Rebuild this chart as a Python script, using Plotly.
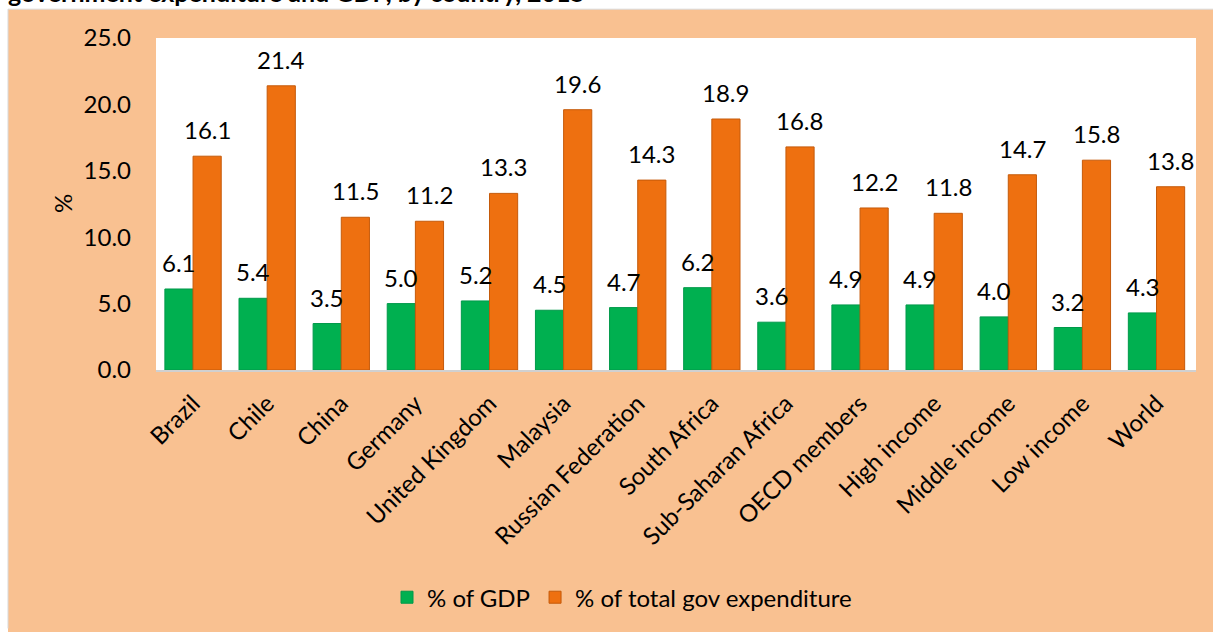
import plotly.graph_objects as go

categories = ["Brazil", "Chile", "China", "Germany", "United Kingdom", "Malaysia",
              "Russian Federation", "South Africa", "Sub-Saharan Africa", "OECD members",
              "High income", "Middle income", "Low income", "World"]
gdp = [6.1, 5.4, 3.5, 5.0, 5.2, 4.5, 4.7, 6.2, 3.6, 4.9, 4.9, 4.0, 3.2, 4.3]
gov = [16.1, 21.4, 11.5, 11.2, 13.3, 19.6, 14.3, 18.9, 16.8, 12.2, 11.8, 14.7, 15.8, 13.8]
y_ticks = [0, 5, 10, 15, 20, 25]

W, H = 1213, 632
L, R, T, B = 156, 17, 38, 260
FONT = "Lato"
FS = 24
PEACH = "#F9C191"

fig = go.Figure()
fig.add_bar(x=categories, y=gdp, name="% of GDP",
            marker=dict(color="#00B050", line=dict(color="#00994A", width=1)))
fig.add_bar(x=categories, y=gov, name="% of total gov expenditure",
            marker=dict(color="#EE7010", line=dict(color="#C55A0A", width=1)))

annotations = []
for cat, v in zip(categories, gdp):
    annotations.append(dict(x=cat, y=v, xref="x", yref="y", text=f"{v:.1f}",
                            showarrow=False, xshift=-14, yshift=10, yanchor="bottom",
                            font=dict(family=FONT, size=FS, color="black")))
for cat, v in zip(categories, gov):
    annotations.append(dict(x=cat, y=v, xref="x", yref="y", text=f"{v:.1f}",
                            showarrow=False, xshift=14, yshift=10, yanchor="bottom",
                            font=dict(family=FONT, size=FS, color="black")))

ph = H - T - B
pw = W - L - R
def px_x(p):
    return (p - L) / pw
def px_y(p):
    return (H - B - p) / ph

annotations.append(dict(x=px_x(62), y=px_y(205), xref="paper", yref="paper", text="%",
                        showarrow=False, textangle=-90, xanchor="center",
                        font=dict(family=FONT, size=FS, color="black")))
annotations.append(dict(x=px_x(6), y=px_y(9), xref="paper", yref="paper",
                        text="<b>government expenditure and GDP, by country, 2015</b>",
                        showarrow=False, xanchor="left", yanchor="bottom",
                        font=dict(family=FONT, size=25, color="black")))

shapes = [
    dict(type="rect", xref="paper", yref="paper", x0=px_x(-5), x1=px_x(8), y0=px_y(640), y1=px_y(-5),
         fillcolor="white", line=dict(width=0), layer="below"),
    dict(type="rect", xref="paper", yref="paper", x0=px_x(-5), x1=px_x(1220), y0=px_y(9), y1=px_y(-5),
         fillcolor="white", line=dict(width=0), layer="below"),
    dict(type="line", xref="paper", yref="paper", x0=px_x(8), x1=px_x(8), y0=px_y(632), y1=px_y(9),
         line=dict(color="#D9D9D9", width=1), layer="below"),
    dict(type="line", xref="paper", yref="paper", x0=px_x(8), x1=px_x(1213), y0=px_y(9), y1=px_y(9),
         line=dict(color="#D9D9D9", width=1), layer="below"),
]

fig.update_layout(
    width=W, height=H,
    margin=dict(l=L, r=R, t=T, b=B, pad=0),
    paper_bgcolor=PEACH, plot_bgcolor="white",
    barmode="group", bargap=0.24, bargroupgap=0,
    font=dict(family=FONT, size=FS, color="black"),
    showlegend=True,
    legend=dict(orientation="h", x=px_x(622), xanchor="center", y=px_y(601), yanchor="middle",
                font=dict(family=FONT, size=FS, color="black"), bgcolor="rgba(0,0,0,0)",
                itemwidth=30, traceorder="normal"),
    annotations=annotations,
    shapes=shapes,
    xaxis=dict(tickangle=-45, showgrid=False, showline=True, linecolor="#D0D0D0", linewidth=2,
               ticks="", ticklabelstandoff=8, tickfont=dict(family=FONT, size=FS)),
    yaxis=dict(range=[0, 25], tickvals=y_ticks, tickformat=".1f", showgrid=False,
               showline=False, zeroline=False, ticks="", ticklabelstandoff=24,
               tickfont=dict(family=FONT, size=FS)),
)

fig.write_html("out.html")
